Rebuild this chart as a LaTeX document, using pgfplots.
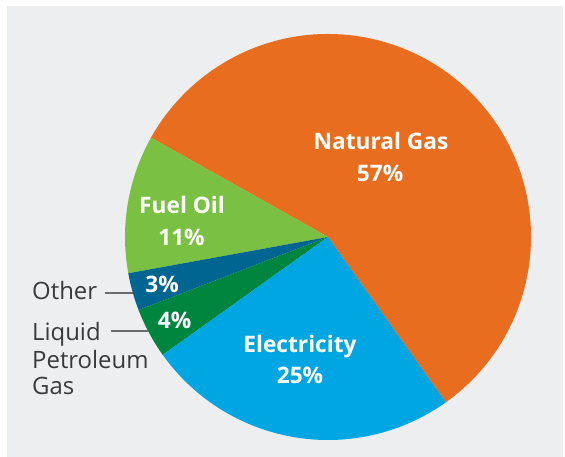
\documentclass[border=0pt]{standalone}
\usepackage{fontspec}
\setmainfont{Open Sans}
\usepackage{pgfplots}
\usepackage{pgfplotstable}
\pgfplotsset{compat=1.18}
\definecolor{cNG}{HTML}{E96D1F}
\definecolor{cFO}{HTML}{7AC143}
\definecolor{cOT}{HTML}{006591}
\definecolor{cLP}{HTML}{00853F}
\definecolor{cEL}{HTML}{00A6E1}
\definecolor{bgray}{HTML}{EDEEF0}
\definecolor{tgray}{HTML}{3A3A3C}
\definecolor{lgray}{HTML}{6A6B6D}

\pgfplotstableread[col sep=comma]{
name,value,color
Natural Gas,57,cNG
Fuel Oil,11,cFO
Other,3,cOT
Liquid Petroleum Gas,4,cLP
Electricity,25,cEL
}\piedata

\begin{document}
\begin{tikzpicture}
\begin{axis}[
  x=1bp, y=1bp,
  xmin=0, xmax=565, ymin=0, ymax=457,
  hide axis, clip=false,
]
\fill[white] (axis cs:0,0) rectangle (axis cs:565,457);
\fill[bgray] (axis cs:7,0) rectangle (axis cs:563,451);
\pgfplotstablegetrowsof{\piedata}
\pgfmathtruncatemacro\nrows{\pgfplotsretval-1}
\gdef\angA{-54.5}
\pgfplotsforeachungrouped \i in {0,...,\nrows}{%
  \pgfplotstablegetelem{\i}{value}\of\piedata
  \pgfmathsetmacro\angB{\angA+3.6*\pgfplotsretval}%
  \pgfplotstablegetelem{\i}{color}\of\piedata
  \edef\slicecol{\pgfplotsretval}%
  \edef\temp{\noexpand\fill[\slicecol] (axis cs:328,220) -- ++(\angA:203bp) arc[start angle=\angA, end angle=\angB, radius=203bp] -- cycle;}%
  \temp
  \global\let\angA\angB
}
% slice labels
\begin{scope}[every node/.style={text=white, font=\bfseries\fontsize{22.8}{28}\selectfont, anchor=base, inner sep=0pt}]
\node at (axis cs:381,307) {Natural Gas};
\node at (axis cs:380,275) {57\%};
\node at (axis cs:300,104) {Electricity};
\node at (axis cs:300,73) {25\%};
\node at (axis cs:182,243) {Fuel Oil};
\node at (axis cs:181.5,211) {11\%};
\node at (axis cs:162,164) {3\%};
\node at (axis cs:174.5,128) {4\%};
\end{scope}
\begin{scope}[every node/.style={text=tgray, font=\fontsize{24}{28}\selectfont, anchor=base west, inner sep=0pt}]
\node at (axis cs:32,157) {Other};
\node at (axis cs:32,116) {Liquid};
\node at (axis cs:32,88) {Petroleum};
\node at (axis cs:32,62) {Gas};
\end{scope}
\draw[lgray, line width=1.2bp] (axis cs:105,164) -- (axis cs:133,164);
\draw[lgray, line width=1.2bp] (axis cs:111,126) -- (axis cs:148,126);
\end{axis}
\end{tikzpicture}
\end{document}
